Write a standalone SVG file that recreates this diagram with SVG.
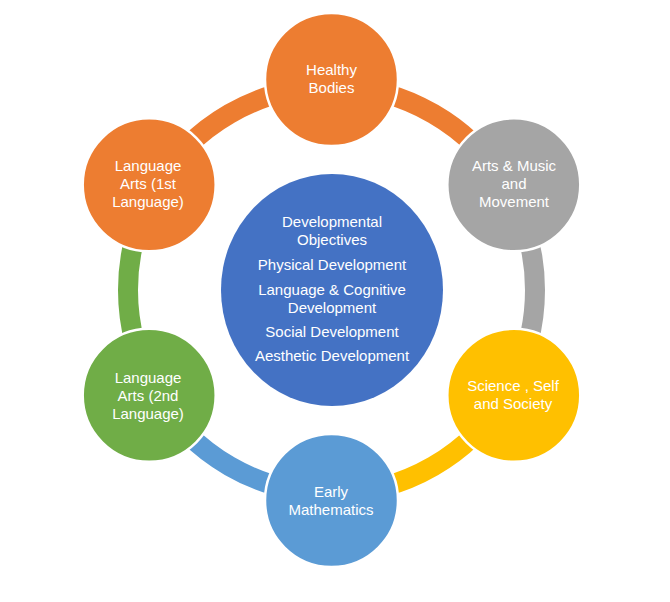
<svg xmlns="http://www.w3.org/2000/svg" width="670" height="602" viewBox="0 0 670 602">
<style>
.arc{fill:none;stroke-width:20}
.node{stroke:#fff;stroke-width:2.5}
.t{font-family:"Liberation Sans",Arial,sans-serif;font-size:15px;fill:#fff;text-anchor:middle}
</style>
<rect width="670" height="602" fill="#fff"/>
<g id="connectors">
<path class="arc" stroke="#ED7D31" d="M331.5,86.5 A203.5,203.5 0 0 1 507.74,188.25"/>
<path class="arc" stroke="#A5A5A5" d="M507.74,188.25 A203.5,203.5 0 0 1 507.74,391.75"/>
<path class="arc" stroke="#FFC000" d="M507.74,391.75 A203.5,203.5 0 0 1 331.5,493.5"/>
<path class="arc" stroke="#5B9BD5" d="M331.5,493.5 A203.5,203.5 0 0 1 155.26,391.75"/>
<path class="arc" stroke="#70AD47" d="M155.26,391.75 A203.5,203.5 0 0 1 155.26,188.25"/>
<path class="arc" stroke="#ED7D31" d="M155.26,188.25 A203.5,203.5 0 0 1 331.5,86.5"/>
</g>
<g id="center">
<ellipse cx="332" cy="290" rx="111" ry="116" fill="#4472C4"/>
<text class="t" x="332" y="227">Developmental</text>
<text class="t" x="332" y="245">Objectives</text>
<text class="t" x="332" y="270">Physical Development</text>
<text class="t" x="332" y="295">Language &amp; Cognitive</text>
<text class="t" x="332" y="313">Development</text>
<text class="t" x="332" y="337">Social Development</text>
<text class="t" x="332" y="361">Aesthetic Development</text>
</g>
<g id="healthy-bodies">
<circle class="node" cx="331.5" cy="79.5" r="66.5" fill="#ED7D31"/>
<text class="t" x="331.5" y="75">Healthy</text>
<text class="t" x="331.5" y="93">Bodies</text>
</g>
<g id="arts-music">
<circle class="node" cx="513.8" cy="184.8" r="66.5" fill="#A5A5A5"/>
<text class="t" x="514" y="171">Arts &amp; Music</text>
<text class="t" x="514" y="189">and</text>
<text class="t" x="514" y="207">Movement</text>
</g>
<g id="science">
<circle class="node" cx="513.8" cy="395.3" r="66.5" fill="#FFC000"/>
<text class="t" x="513" y="391">Science , Self</text>
<text class="t" x="513" y="409">and Society</text>
</g>
<g id="early-math">
<circle class="node" cx="331.5" cy="500.5" r="66.5" fill="#5B9BD5"/>
<text class="t" x="331" y="497">Early</text>
<text class="t" x="331" y="515">Mathematics</text>
</g>
<g id="language-arts-2">
<circle class="node" cx="149.2" cy="395.3" r="66.5" fill="#70AD47"/>
<text class="t" x="148" y="383">Language</text>
<text class="t" x="148" y="401">Arts (2nd</text>
<text class="t" x="148" y="419">Language)</text>
</g>
<g id="language-arts-1">
<circle class="node" cx="149.2" cy="184.8" r="66.5" fill="#ED7D31"/>
<text class="t" x="148" y="171">Language</text>
<text class="t" x="148" y="189">Arts (1st</text>
<text class="t" x="148" y="207">Language)</text>
</g>
</svg>
